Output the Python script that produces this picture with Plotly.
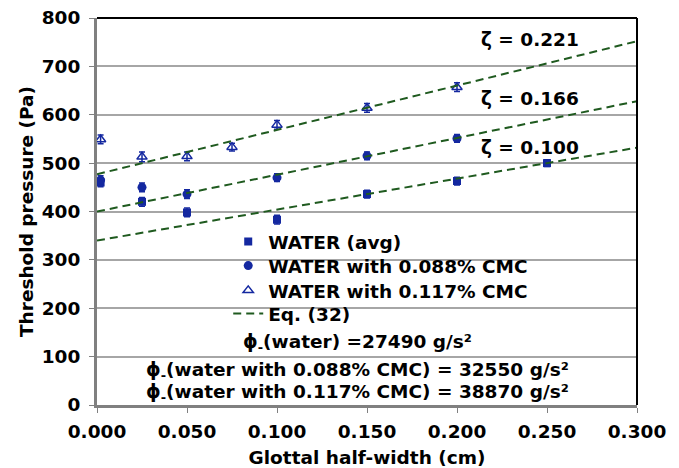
import plotly.graph_objects as go

# ---- data ----
x_water = [0.002, 0.025, 0.050, 0.100, 0.150, 0.200, 0.250]
p_water = [460, 420, 398, 383, 436, 463, 500]
e_water = [9, 9, 9, 9, 8, 8, 7]

x_088 = [0.002, 0.025, 0.050, 0.100, 0.150, 0.200]
p_088 = [465, 450, 436, 470, 515, 551]
e_088 = [9, 9, 9, 8, 8, 8]

x_117 = [0.002, 0.025, 0.050, 0.075, 0.100, 0.150, 0.200]
p_117 = [549, 513, 514, 533, 579, 614, 657]
e_117 = [9, 10, 9, 8, 9, 9, 9]

eq_x = [0.0, 0.3]
eq_lines = {
    "0.100": [340, 532],
    "0.166": [400, 628],
    "0.221": [477, 752],
}
zeta_labels = ["ζ = 0.221", "ζ = 0.166", "ζ = 0.100"]
zeta_pos_x = [0.2405, 0.2405, 0.2405]
zeta_pos_y = [755, 634, 533]

legend_names = ["WATER (avg)", "WATER with 0.088% CMC", "WATER with 0.117% CMC", "Eq. (32)"]
phi_texts = [
    "ϕ<sub>-</sub>(water) =27490 g/s²",
    "ϕ<sub>-</sub>(water with 0.088% CMC) = 32550 g/s²",
    "ϕ<sub>-</sub>(water with 0.117% CMC) = 38870 g/s²",
]

BLUE = "#1428a0"
GREEN = "#1f5a1f"
FONT = "DejaVu Sans"
FS = 18.5

fig = go.Figure()

fig.add_trace(go.Scatter(
    x=x_water, y=p_water, mode="markers", name=legend_names[0], legend="legend",
    marker=dict(symbol="square", size=8, color=BLUE),
    error_y=dict(type="data", array=e_water, color=BLUE, thickness=1.5, width=3),
))
fig.add_trace(go.Scatter(
    x=x_088, y=p_088, mode="markers", name=legend_names[1], legend="legend2",
    marker=dict(symbol="circle", size=9, color=BLUE),
    error_y=dict(type="data", array=e_088, color=BLUE, thickness=1.5, width=3),
))
fig.add_trace(go.Scatter(
    x=x_117, y=p_117, mode="markers", name=legend_names[2], legend="legend3",
    marker=dict(symbol="triangle-up-open", size=9, color=BLUE, line=dict(width=1.5, color=BLUE)),
    error_y=dict(type="data", array=e_117, color=BLUE, thickness=1.5, width=3),
))
for i, (k, v) in enumerate(eq_lines.items()):
    fig.add_trace(go.Scatter(
        x=eq_x, y=v, mode="lines", name=legend_names[3], legend="legend4",
        line=dict(color=GREEN, width=2, dash="8px,5px"),
        showlegend=(i == 0),
    ))

# white box behind legend (covers gridlines)
fig.add_shape(type="rect", xref="paper", yref="paper",
              x0=0.144, x1=0.917, y0=0.135, y1=0.46,
              fillcolor="white", line=dict(width=0), layer="between")
# frame top & right
fig.add_shape(type="line", xref="paper", yref="paper", x0=0, x1=1, y0=1, y1=1,
              line=dict(color="black", width=2))
fig.add_shape(type="line", xref="paper", yref="paper", x0=1, x1=1, y0=0, y1=1,
              line=dict(color="black", width=2))

for t, xx, yy in zip(zeta_labels, zeta_pos_x, zeta_pos_y):
    fig.add_annotation(x=xx, y=yy, xref="x", yref="y", text="<b>%s</b>" % t,
                       showarrow=False, font=dict(family=FONT, size=FS, color="black"))

phi_y = [0.125, 0.052, -0.004]
for t, yy in zip(phi_texts, phi_y):
    fig.add_annotation(x=0.483, y=yy, xref="paper", yref="paper", text="<b>%s</b>" % t,
                       showarrow=False, xanchor="center",
                       font=dict(family=FONT, size=FS, color="black"))

leg_common = dict(x=0.243, xanchor="left", yanchor="middle",
                  bgcolor="rgba(0,0,0,0)", font=dict(family=FONT, size=FS, weight="bold"),
                  itemwidth=30)
leg_y = [0.421, 0.359, 0.295, 0.235]

fig.update_layout(
    width=679, height=468,
    margin=dict(l=97, r=42, t=18, b=63),
    paper_bgcolor="white", plot_bgcolor="white",
    font=dict(family=FONT, size=FS, color="black", weight="bold"),
    showlegend=True,
    legend=dict(y=leg_y[0], **leg_common),
    legend2=dict(y=leg_y[1], **leg_common),
    legend3=dict(y=leg_y[2], **leg_common),
    legend4=dict(y=leg_y[3], **leg_common),
    xaxis=dict(range=[0, 0.3], dtick=0.05, tickformat=".3f", showgrid=False,
               ticks="outside", ticklen=5, tickcolor="#808080", ticklabelstandoff=3,
               showline=True, linecolor="#808080", linewidth=3, zeroline=False,
               automargin=False,
               title=dict(text="Glottal half-width (cm)", standoff=12,
                          font=dict(family=FONT, size=FS, weight="bold"))),
    yaxis=dict(range=[0, 800], dtick=100, showgrid=True, gridcolor="#a6a6a6", gridwidth=1.5,
               ticks="outside", ticklen=5, tickcolor="#808080", ticklabelstandoff=5,
               showline=True, linecolor="#808080", linewidth=3, zeroline=False,
               automargin=False,
               title=dict(text="Threshold pressure (Pa)", standoff=4,
                          font=dict(family=FONT, size=FS, weight="bold"))),
)

fig.write_html("out.html")
